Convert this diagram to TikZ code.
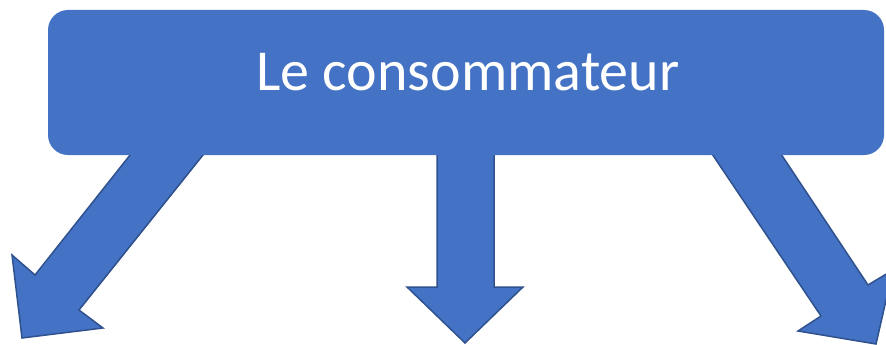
\documentclass[tikz,border=0pt]{standalone}
\usepackage{fontspec}
\setmainfont{Carlito}
\definecolor{boxblue}{HTML}{4472C4}
\definecolor{edgeblue}{HTML}{2F528F}
\tikzset{
  blockarrow/.style={fill=boxblue, draw=edgeblue, line width=1.5pt, line join=miter},
  titlebox/.style={fill=boxblue, rounded corners=20pt, minimum width=836pt, minimum height=145pt, inner sep=0pt},
}
\begin{document}
\begin{tikzpicture}
  [x=1pt, y=-1pt]
  \useasboundingbox (0,0) rectangle (886,345);

  % arrows, drawn first so the box covers their tops
  \draw[blockarrow] (138,145) -- (35,275) -- (12,255) -- (22,338) -- (103,328) -- (79,310) -- (211,145) -- cycle;
  \draw[blockarrow] (437,145) -- (437,287) -- (407,287) -- (465,343) -- (523,287) -- (494,287) -- (494,145) -- cycle;
  \draw[blockarrow] (706,145) -- (821,316) -- (798,331) -- (876,344) -- (893,270) -- (868,285) -- (775,145) -- cycle;

  \node[titlebox] (box) at (466,82.5) {};
  \node[anchor=base, text=white, font=\fontsize{58}{60}\selectfont] (title) at (468,90) {Le consommateur};

\end{tikzpicture}
\end{document}
